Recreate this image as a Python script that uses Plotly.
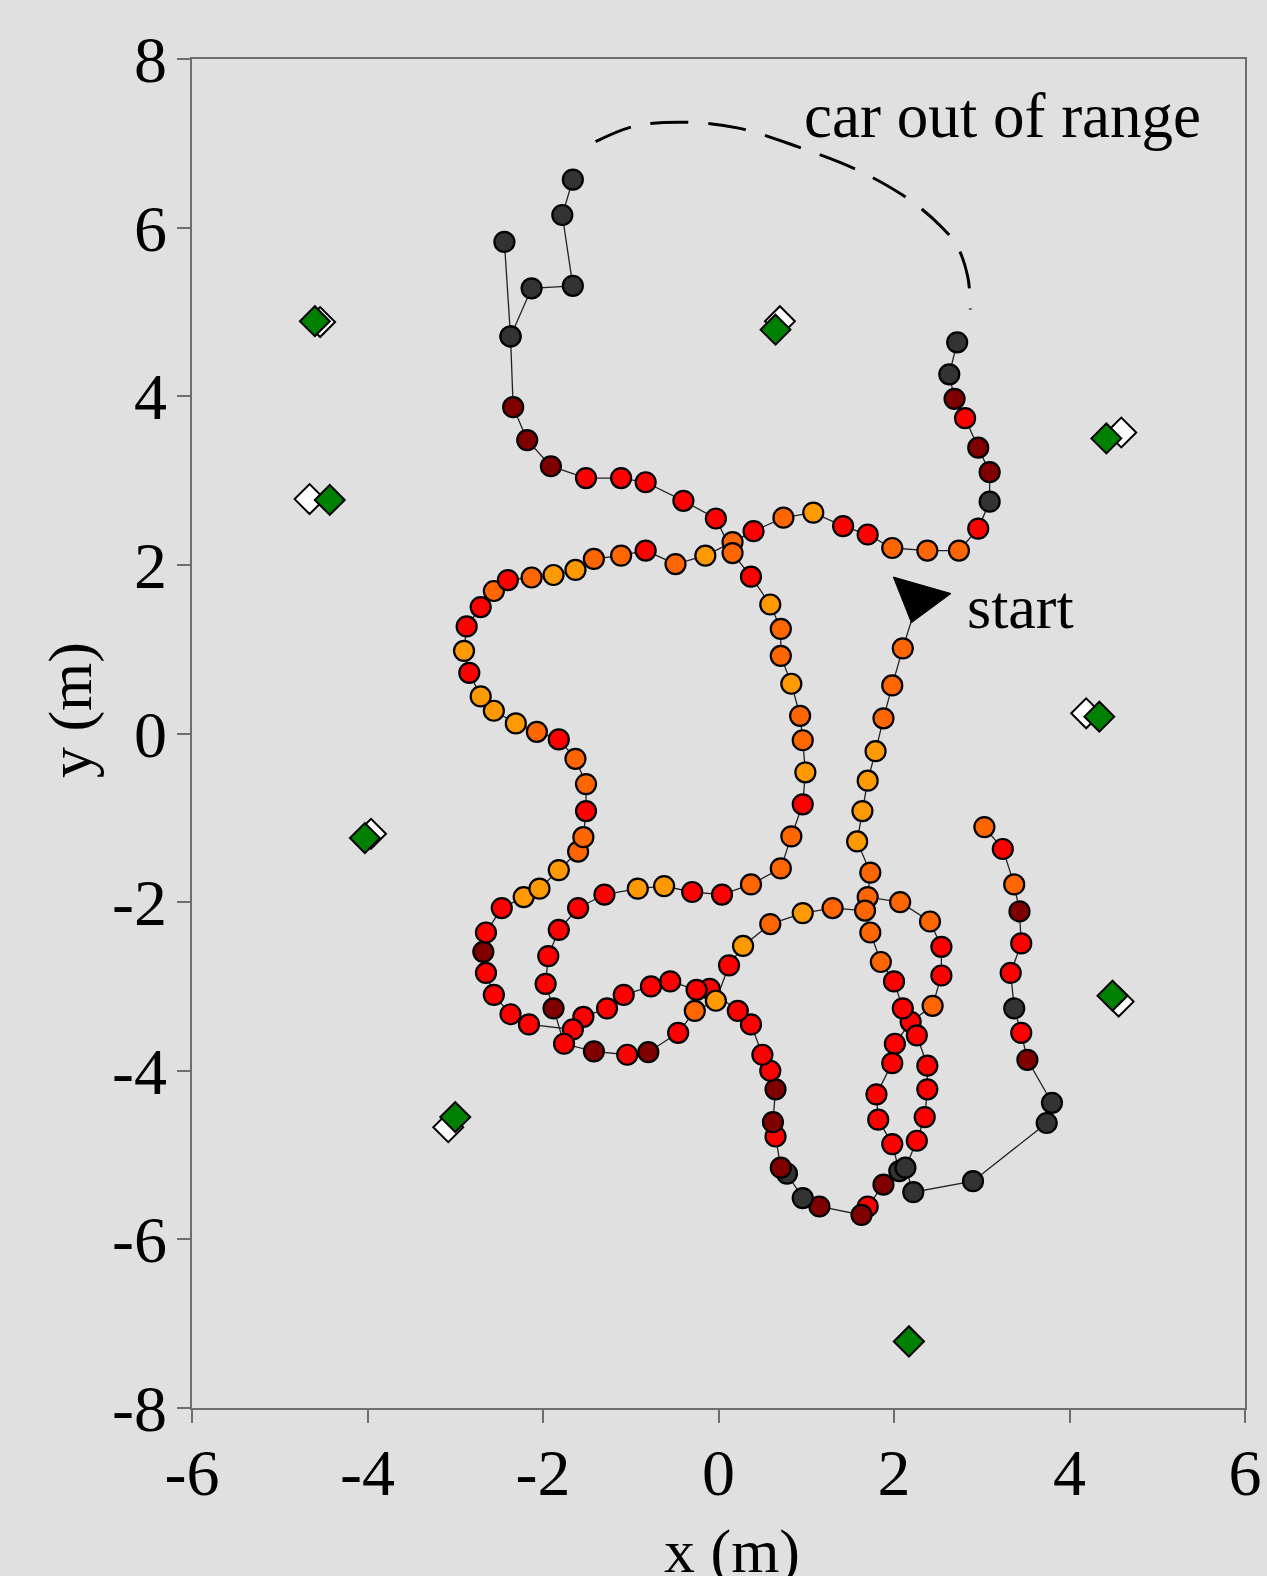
import plotly.graph_objects as go

# ---------------- data (metres) ----------------
start_x = [2.28]
start_y = [1.61]

# trajectory before the car went out of range
trackA_x = [2.10,1.98,1.88,1.79,1.70,1.64,1.58,1.73,1.70,2.07,
            2.41,2.54,2.54,2.44,2.19,2.01,1.98,1.80,1.82,1.98,
            2.06,1.88,1.70,1.63,1.15,0.96,0.78,0.71,0.65,0.62,
            0.65,0.59,0.50,0.37,0.22,-0.10,-0.25,-0.55,-0.77,-1.08,
            -1.27,-1.54,-1.66,-2.16,-2.37,-2.56,-2.65,-2.68,-2.65,-2.47,
            -2.22,-2.04,-1.82,-1.60,-1.54,-1.51,-1.51,-1.63,-1.82,-2.07,
            -2.31,-2.56,-2.71,-2.84,-2.90,-2.87,-2.71,-2.56,-2.40,-2.13,
            -1.88,-1.63,-1.42,-1.11,-0.83,-0.49,-0.15,0.16,0.40,0.74,
            1.08,1.42,1.70,1.98,2.38,2.74,2.96,3.09,3.09,2.96,
            2.81,2.69,2.63,2.72]
trackA_y = [1.01,0.57,0.18,-0.21,-0.56,-0.92,-1.28,-1.65,-1.94,-2.00,
            -2.23,-2.53,-2.87,-3.23,-3.42,-3.68,-3.91,-4.28,-4.58,-4.87,
            -5.19,-5.35,-5.61,-5.71,-5.61,-5.51,-5.22,-5.15,-4.78,-4.61,
            -4.22,-4.00,-3.81,-3.45,-3.29,-3.03,-3.04,-2.94,-3.00,-3.10,
            -3.26,-3.36,-3.51,-3.45,-3.33,-3.10,-2.84,-2.59,-2.36,-2.07,
            -1.94,-1.84,-1.62,-1.40,-1.23,-0.92,-0.60,-0.30,-0.07,0.02,
            0.12,0.27,0.44,0.72,0.98,1.27,1.50,1.69,1.82,1.85,
            1.88,1.94,2.07,2.11,2.17,2.01,2.11,2.27,2.40,2.56,
            2.62,2.46,2.36,2.20,2.17,2.17,2.43,2.75,3.10,3.39,
            3.74,3.97,4.26,4.64]
trackA_c = list("OOOYYYYOOO" "ORRORRRRRR" "GDRDDGGDRD" "DRRRRRRRRR"
                "RRRRRRRDRR" "YYYOOROORO" "YYYRYRRORO" "YYOOROYORO"
                "YRROOORGDD" "RDGG")

# trajectory after the car came back in range
trackB_x = [-1.66,-1.78,-1.66,-2.13,-2.37,-2.44,-2.37,-2.34,-2.18,-1.91,
            -1.51,-1.11,-0.83,-0.40,-0.03,0.16,0.37,0.59,0.71,0.71,
            0.83,0.93,0.96,0.99,0.96,0.83,0.71,0.37,0.04,-0.30,
            -0.62,-0.92,-1.30,-1.60,-1.82,-1.94,-1.97,-1.88,-1.76,-1.42,
            -1.04,-0.80,-0.46,-0.27,-0.03,0.12,0.28,0.59,0.96,1.30,
            1.67,1.73,1.85,2.00,2.10,2.26,2.38,2.38,2.35,2.26,
            2.13,2.22,2.90,3.74,3.80,3.52,3.45,3.37,3.33,3.45,
            3.43,3.37,3.24,3.03]
trackB_y = [6.57,6.15,5.31,5.28,4.71,5.83,4.71,3.87,3.48,3.17,
            3.03,3.03,2.98,2.76,2.55,2.14,1.86,1.53,1.24,0.92,
            0.59,0.21,-0.08,-0.46,-0.84,-1.22,-1.60,-1.79,-1.91,-1.88,
            -1.81,-1.84,-1.91,-2.07,-2.33,-2.64,-2.97,-3.26,-3.68,-3.77,
            -3.81,-3.78,-3.55,-3.29,-3.17,-2.75,-2.52,-2.26,-2.13,-2.07,
            -2.10,-2.36,-2.71,-2.94,-3.26,-3.58,-3.94,-4.22,-4.55,-4.83,
            -5.15,-5.44,-5.31,-4.62,-4.38,-3.87,-3.55,-3.26,-2.84,-2.49,
            -2.11,-1.79,-1.37,-1.11]
trackB_c = list("GGGGGGGDDD" "RRRRRORYOO" "YOOYROOORR" "YYRRRRRDRD"
                "RDROYRYOYO" "OOORRRRRRR" "GGGGGDRGRR" "DORO")

# dashed "car out of range" gap
gap_x = [-1.40,-0.97,-0.40,0.23,0.90,1.57,2.15,2.53,2.72,2.84,2.87]
gap_y = [7.02,7.20,7.25,7.18,6.96,6.69,6.35,6.02,5.78,5.42,5.03]

# beacons: true (white) and estimated (green) positions
beacon_true_x = [-4.54,0.70,4.59,-4.66,4.19,-3.96,4.56,-3.08,2.17]
beacon_true_y = [4.88,4.89,3.57,2.78,0.24,-1.19,-3.18,-4.67,-7.21]
beacon_est_x = [-4.60,0.65,4.42,-4.43,4.34,-4.03,4.49,-3.00,2.17]
beacon_est_y = [4.89,4.79,3.50,2.77,0.20,-1.24,-3.11,-4.55,-7.21]

x_ticks = [-6, -4, -2, 0, 2, 4, 6]
x_tick_text = ["-6", "-4", "-2", "0", "2", "4", "6"]
y_ticks = [-8, -6, -4, -2, 0, 2, 4, 6, 8]
y_tick_text = ["-8", "-6", "-4", "-2", "0", "2", "4", "6", "8"]

palette = {"G": "#333333", "D": "#800000", "R": "#ff0000",
           "O": "#ff6600", "Y": "#ff9900"}

FONT = "Liberation Serif, Times New Roman, serif"
BG = "#e0e0e0"

fig = go.Figure()

# connecting line (broken where car was out of range)
line_x = start_x + trackA_x + [None] + trackB_x
line_y = start_y + trackA_y + [None] + trackB_y
fig.add_trace(go.Scatter(x=line_x, y=line_y, mode="lines",
                         line=dict(color="#222222", width=1.3),
                         hoverinfo="skip", showlegend=False))

# dashed out-of-range curve
fig.add_trace(go.Scatter(x=gap_x, y=gap_y, mode="lines",
                         line=dict(color="black", width=3, dash="38px,20px",
                                   shape="spline"),
                         hoverinfo="skip", showlegend=False))

# beacons
fig.add_trace(go.Scatter(x=beacon_true_x, y=beacon_true_y, mode="markers",
                         marker=dict(symbol="diamond", size=23, color="white",
                                     line=dict(color="black", width=2)),
                         showlegend=False))
fig.add_trace(go.Scatter(x=beacon_est_x, y=beacon_est_y, mode="markers",
                         marker=dict(symbol="diamond", size=23, color="#008000",
                                     line=dict(color="black", width=2)),
                         showlegend=False))

# trajectory points
all_x = trackA_x + trackB_x
all_y = trackA_y + trackB_y
all_c = [palette[c] for c in (trackA_c + trackB_c)]
fig.add_trace(go.Scatter(x=all_x, y=all_y, mode="markers",
                         marker=dict(symbol="circle", size=20, color=all_c,
                                     line=dict(color="black", width=2.2)),
                         showlegend=False))

# start marker
fig.add_trace(go.Scatter(x=start_x, y=start_y, mode="markers",
                         marker=dict(symbol="triangle-up", size=52, angle=196,
                                     color="black",
                                     line=dict(color="black", width=1)),
                         showlegend=False))

axis_common = dict(showgrid=False, zeroline=False, showline=True,
                   linecolor="#6e6e6e", linewidth=1.6, mirror=True,
                   ticks="outside", ticklen=13, tickwidth=1.6,
                   tickcolor="#6e6e6e", automargin=False,
                   tickfont=dict(family=FONT, size=66, color="black"))

fig.update_layout(
    width=1267, height=1576, autosize=False,
    margin=dict(l=192, r=22, t=59, b=168, autoexpand=False),
    paper_bgcolor=BG, plot_bgcolor=BG,
    xaxis=dict(range=[-6, 6], tickmode="array", tickvals=x_ticks,
               ticktext=x_tick_text, ticklabelstandoff=-7, **axis_common),
    yaxis=dict(range=[-8, 8], tickmode="array", tickvals=y_ticks,
               ticktext=y_tick_text, ticklabelstandoff=-3, **axis_common),
    annotations=[
        dict(text="car out of range", x=3.24, y=7.32, xref="x", yref="y",
             showarrow=False, xanchor="center", yanchor="middle",
             font=dict(family=FONT, size=63, color="black")),
        dict(text="start", x=3.44, y=1.50, xref="x", yref="y",
             showarrow=False, xanchor="center", yanchor="middle",
             font=dict(family=FONT, size=62, color="black")),
        dict(text="x (m)", x=0.5128, y=-0.1067, xref="paper", yref="paper",
             showarrow=False, xanchor="center", yanchor="middle",
             font=dict(family=FONT, size=62, color="black")),
        dict(text="y (m)", x=0, y=0.5174, xref="paper", yref="paper",
             xshift=-122, textangle=-90,
             showarrow=False, xanchor="center", yanchor="middle",
             font=dict(family=FONT, size=62, color="black")),
    ],
)

fig.write_html("out.html",
               config={"displayModeBar": False, "responsive": False},
               post_script="document.body.style.margin='0';"
                           "document.body.style.overflow='hidden';")
